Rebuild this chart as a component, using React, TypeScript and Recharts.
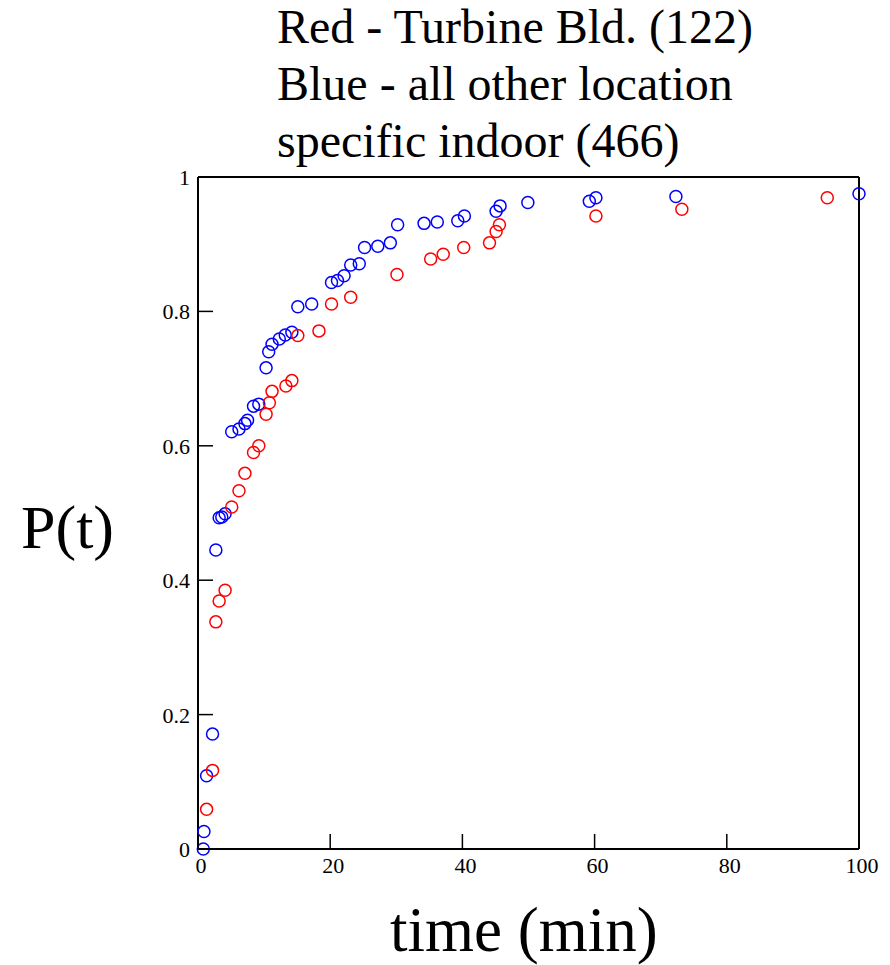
import { ScatterChart, Scatter, XAxis, YAxis } from 'recharts'

const W = 890
const H = 965
const FONT = "'Liberation Serif', 'Times New Roman', serif"

// red - Turbine Bld. (122)
const redTime = [
  1.3, 2.2, 2.7, 3.2, 4.1, 5.1, 6.2, 7.1, 8.4, 9.2, 10.3, 10.8, 11.2, 13.3,
  14.2, 15.1, 18.3, 20.2, 23.1, 30.1, 35.2, 37.1, 40.2, 44.1, 45.1, 45.6,
  60.2, 73.2, 95.2,
]
const redP = [
  0.059, 0.117, 0.338, 0.369, 0.385, 0.509, 0.533, 0.559, 0.59, 0.6, 0.647,
  0.664, 0.681, 0.689, 0.697, 0.764, 0.771, 0.811, 0.821, 0.855, 0.878, 0.885,
  0.895, 0.902, 0.919, 0.929, 0.942, 0.952, 0.969,
]

// blue - all other location specific indoor (466)
const blueTime = [
  0.8, 0.9, 1.3, 2.2, 2.7, 3.2, 3.6, 4.1, 5.1, 6.2, 7.1, 7.5, 8.4, 9.2, 10.3,
  10.7, 11.2, 12.3, 13.2, 14.2, 15.1, 17.2, 20.2, 21.1, 22.1, 23.1, 24.4,
  25.2, 27.2, 29.1, 30.2, 34.2, 36.2, 39.3, 40.3, 45.1, 45.7, 49.9, 59.2,
  60.2, 72.3, 100,
]
const blueP = [
  0.0, 0.026, 0.109, 0.171, 0.445, 0.493, 0.494, 0.499, 0.621, 0.625, 0.633,
  0.638, 0.659, 0.662, 0.716, 0.74, 0.751, 0.759, 0.765, 0.769, 0.807, 0.811,
  0.843, 0.846, 0.853, 0.869, 0.871, 0.895, 0.897, 0.902, 0.929, 0.931, 0.933,
  0.935, 0.942, 0.949, 0.957, 0.962, 0.964, 0.969, 0.971, 0.975,
]

const xTicks = [0, 20, 40, 60, 80, 100]
const yTicks = [0, 0.2, 0.4, 0.6, 0.8, 1]

const titleLines = [
  'Red - Turbine Bld. (122)',
  'Blue - all other location',
  'specific indoor (466)',
]

const redData = redTime.map((t, i) => ({ t, p: redP[i] }))
const blueData = blueTime.map((t, i) => ({ t, p: blueP[i] }))

const TICK = 15

const BottomTick = ({ x, y, payload }: any) => (
  <g>
    <line x1={x} y1={y} x2={x} y2={y - TICK} stroke='#000' strokeWidth={1.5} />
    <text x={x + 3} y={y + 24} textAnchor='middle' fontFamily={FONT} fontSize={22} fill='#000'>
      {payload.value}
    </text>
  </g>
)

const LeftTick = ({ x, y, payload }: any) => (
  <g>
    <line x1={x} y1={y} x2={x + TICK} y2={y} stroke='#000' strokeWidth={1.5} />
    <text x={x - 8} y={y + 8} textAnchor='end' fontFamily={FONT} fontSize={22} fill='#000'>
      {payload.value}
    </text>
  </g>
)

const TopTick = ({ x, y }: any) => (
  <line x1={x} y1={y} x2={x} y2={y + TICK} stroke='#000' strokeWidth={1.5} />
)

const RightTick = ({ x, y }: any) => (
  <line x1={x} y1={y} x2={x - TICK} y2={y} stroke='#000' strokeWidth={1.5} />
)

const ring = (color: string) => (props: any) => (
  <circle cx={props.cx} cy={props.cy} r={6} fill='none' stroke={color} strokeWidth={1.5} />
)

export default function App() {
  const axisLine = { stroke: '#000', strokeWidth: 2 }
  return (
    <div style={{ position: 'absolute', left: 0, top: 0, width: W, height: H, background: '#fff' }}>
      <ScatterChart width={W} height={H} margin={{ top: 176, right: 30, bottom: 115, left: 0 }}>
        <XAxis
          xAxisId='bottom'
          dataKey='t'
          type='number'
          domain={[0, 100]}
          ticks={xTicks}
          height={1}
          tickSize={0}
          tickMargin={0}
          tickLine={false}
          axisLine={axisLine}
          tick={<BottomTick />}
        />
        <XAxis
          xAxisId='top'
          orientation='top'
          dataKey='t'
          type='number'
          domain={[0, 100]}
          ticks={xTicks}
          height={1}
          tickSize={0}
          tickMargin={0}
          tickLine={false}
          axisLine={axisLine}
          tick={<TopTick />}
        />
        <YAxis
          yAxisId='left'
          dataKey='p'
          type='number'
          domain={[0, 1]}
          ticks={yTicks}
          width={198}
          tickSize={0}
          tickMargin={0}
          tickLine={false}
          axisLine={axisLine}
          tick={<LeftTick />}
        />
        <YAxis
          yAxisId='right'
          orientation='right'
          dataKey='p'
          type='number'
          domain={[0, 1]}
          ticks={yTicks}
          width={1}
          tickSize={0}
          tickMargin={0}
          tickLine={false}
          axisLine={axisLine}
          tick={<RightTick />}
        />
        <Scatter
          data={blueData}
          xAxisId='bottom'
          yAxisId='left'
          shape={ring('#0000ff')}
          isAnimationActive={false}
        />
        <Scatter
          data={redData}
          xAxisId='bottom'
          yAxisId='left'
          shape={ring('#ff0000')}
          isAnimationActive={false}
        />
      </ScatterChart>
      <svg
        width={W}
        height={H}
        style={{ position: 'absolute', left: 0, top: 0, pointerEvents: 'none' }}
      >
        {titleLines.map((line, i) => (
          <text key={i} x={277} y={43 + i * 57} fontFamily={FONT} fontSize={48} fill='#000'>
            {line}
          </text>
        ))}
        <text x={21} y={548} fontFamily={FONT} fontSize={62} fill='#000'>
          P(t)
        </text>
        <text x={390} y={951} fontFamily={FONT} fontSize={63} fill='#000'>
          time (min)
        </text>
      </svg>
    </div>
  )
}
